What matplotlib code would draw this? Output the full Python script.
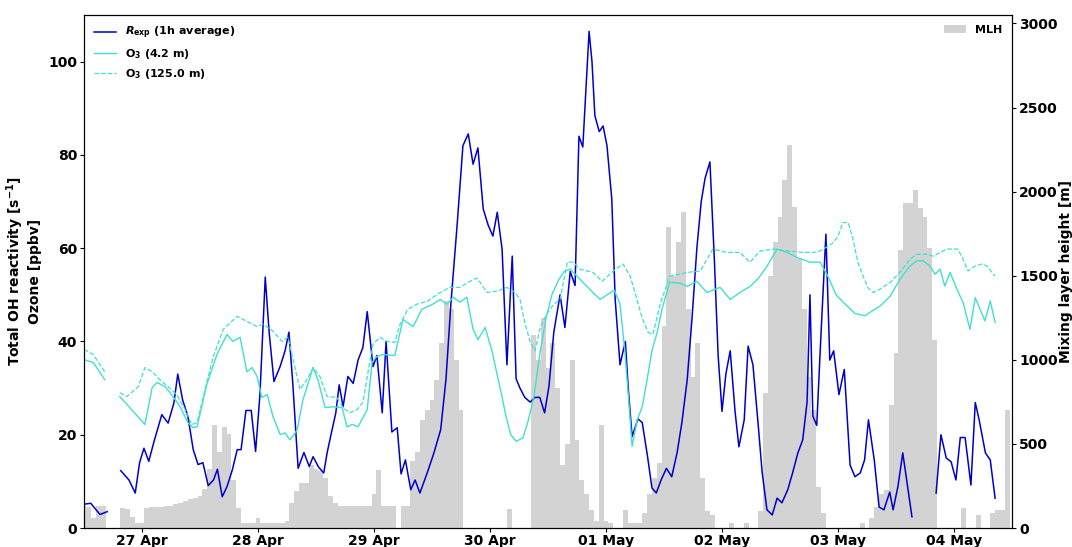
import numpy as np
import matplotlib
matplotlib.use('Agg')
import matplotlib.pyplot as plt
import matplotlib.dates as mdates
from datetime import datetime

# hours since 26 Apr 00:00, nan = gap in the record
rexp_hours = [12.0, 13.4, 15.3, 16.8, 18.0,
              19.6, 21.3, 22.6, 23.5, 24.4, 25.4, 26.5, 28.1, 29.4, 30.6, 31.4, 32.4, 33.5, 34.6, 35.6,
              36.6, 37.7, 38.8, 39.6, 40.6, 41.6, 42.7, 43.7, 44.5, 45.5, 46.6, 47.5, 48.4, 49.5, 50.3,
              51.3, 52.6, 53.6, 54.4, 55.2, 56.3, 57.5, 58.6, 59.4, 60.5, 61.6, 62.3, 63.1, 64.1, 64.8,
              65.6, 66.6, 67.7, 68.7, 69.7, 70.6, 71.8, 72.6, 73.7, 74.5, 75.7, 76.8, 77.6, 78.5, 79.6,
              80.5, 81.5, 83.0, 84.4, 85.8, 86.9, 87.9, 89.2, 90.4, 91.5, 92.5, 93.5, 94.6, 95.6, 96.6,
              97.5, 98.5, 99.5, 100.6, 101.4, 102.2, 103.2, 104.3, 105.3, 106.3, 107.3, 108.2, 109.2,
              110.5, 111.5, 112.6, 113.6, 114.4, 115.2, 116.5, 117.1, 117.7, 118.6, 119.4, 120.2, 121.2,
              121.9, 122.9, 124.0, 124.6, 125.4, 126.6, 127.5, 128.6, 129.5, 130.4, 131.4, 132.5, 133.6,
              134.7, 135.7, 136.8, 137.8, 138.8, 139.7, 140.5, 141.5, 142.4, 143.2, 144.0, 144.8, 145.7,
              146.7, 147.5, 148.6, 149.4, 150.4, 151.5, 152.3, 153.3, 154.4, 155.4, 156.4, 157.6, 158.6,
              159.7, 160.7, 161.6, 162.2, 162.8, 163.6, 164.5, 165.5, 166.3, 167.1, 168.2, 169.3, 170.5,
              171.5, 172.6, 173.5, 174.3, 175.5, 176.5, 177.5, 178.7, 179.4, 180.4, 181.4, 182.2, 183.3,
              185.0,
              188.3, 189.3, 190.4, 191.4, 192.4, 193.3, 194.3, 195.5, 196.4, 197.2, 198.5, 199.5, 200.5]
rexp_vals = [5.1, 5.3, 2.9, 3.5, np.nan,
             12.3, 10.3, 7.5, 14, 17.1, 14.3, 18.6, 24.3, 22.5, 26.8, 33, 27.5, 23.9, 16.8, 13.6,
             14, 9.1, 10.3, 12.6, 6.7, 8.9, 12.5, 16.8, 16.8, 25.2, 25.2, 16.4, 28.6, 53.8, 42,
             31.4, 34.7, 38, 42, 31, 12.8, 16.2, 13.2, 15.3, 13.1, 11.8, 16.1, 20, 24.7, 30.7,
             26, 32.5, 31, 36, 38.7, 46.4, 34.6, 37, 24.7, 40, 20.6, 21.5, 11.6, 14.6, 8.2,
             10.3, 7.5, 11.8, 16.1, 21.1, 32, 48, 65, 82, 84.5, 78, 81.5, 68.4, 65, 62.6,
             67.7, 59.8, 35, 58.3, 32, 30, 28, 27, 28, 28, 24.7, 30.4, 42,
             50, 43, 55, 52, 84, 81.7, 106.5, 100, 88.4, 85, 86.2, 82, 70.5,
             49, 35, 40, 30, 19.6, 23.4, 22.6, 15.3, 8.6, 7.5, 10.3, 12.8, 11,
             16.1, 22.6, 31.8, 45, 60, 70, 75, 78.5, 58, 37, 25, 33, 38,
             25, 17.4, 23.2, 39, 35, 22, 12, 3.9, 2.8, 6.4, 5.4, 8.2, 11.8,
             16.1, 18.9, 27, 50, 24, 22, 42, 63, 36, 38, 28.6, 34, 13.5,
             11, 11.8, 14.6, 23.2, 14.6, 4.5, 3.9, 7.7, 3.9, 8.9, 16.1, 10.3, 2.4,
             np.nan,
             7.5, 20, 15, 14.2, 10.3, 19.4, 19.4, 9.2, 26.9, 23.2, 16.1, 14.6, 6.4]

o3_low_hours = [12.0, 13.9, 16.3, 18.0,
                19.4, 24.6, 26.1, 27.1, 28.8, 30.4, 31.9, 33.5, 34.6, 35.4, 37.4, 39.5, 41.6, 42.8, 44.3,
                45.7, 46.8, 47.8, 48.8, 49.9, 51.1, 52.6, 53.6, 54.6, 56.1, 57.3, 59.4, 60.4, 61.9, 63.5,
                65.4, 66.4, 67.5, 68.7, 70.6, 71.6, 72.6, 73.9, 76.3, 78.0, 80.1, 81.9, 84.2, 85.7, 87.1,
                88.4, 89.8, 91.2, 92.5, 93.5, 95.0, 96.4, 98.1, 99.3, 100.3, 101.4, 102.8, 103.9, 105.1,
                106.4, 107.6, 108.8, 110.1, 111.3, 112.6, 114.0, 115.2, 117.3, 118.8, 120.2, 121.7, 122.9,
                123.9, 124.8, 125.4, 126.4, 127.5, 128.5, 129.5, 130.6, 131.6, 133.2, 135.3, 136.8, 138.8,
                140.9, 143.6, 145.7, 147.7, 149.8, 151.5, 153.3, 155.4, 157.5, 159.5, 162.2, 164.3, 165.9,
                167.6, 169.5, 171.5, 173.6, 175.0, 176.7, 178.8, 180.8, 182.9, 184.3, 185.6, 187.0, 188.1,
                189.1, 190.1, 191.2, 192.6, 193.9, 195.3, 196.4, 197.4, 198.4, 199.5, 200.5]
o3_low = [36.1, 35.5, 31.8, np.nan,
          28.2, 22.2, 30.1, 31.2, 30.3, 28.2, 26, 22.6, 21.5, 21.7, 30.8, 37.2, 41.5, 40, 40.9,
          33.5, 34.4, 32.5, 28, 28.6, 23.9, 20, 20.4, 18.9, 21, 27.5, 34.4, 31.8, 25.8, 26,
          25.8, 21.7, 22.2, 21.7, 25.4, 35.5, 36.8, 37.2, 37, 44.7, 43.2, 46.9, 48, 49, 48,
          49.5, 48.4, 49.5, 42.6, 40.4, 43, 38, 30, 24, 20, 18.6, 19.3, 23, 28.2,
          38, 45, 50, 53, 55, 55.5, 54, 52.7, 50.5, 49, 50, 51, 48,
          38, 26, 17.5, 23, 26, 31.8, 38, 42, 47, 52.7, 52.5, 51.8, 52.9,
          50.5, 51.6, 49, 50.5, 51.8, 53.5, 56.1, 59.8, 59.1, 58, 57, 57, 54,
          50, 48, 46, 45.5, 46.5, 47.6, 49.7, 53.3, 56.2, 57.3, 57.3, 56.2, 54.4,
          55.5, 51.9, 54.8, 51.2, 48.3, 42.6, 49.4, 46.9, 44.4, 48.7, 44.1]

o3_high_hours = [12.0, 13.9, 16.3, 18.0,
                 19.4, 20.9, 23.2, 24.6, 26.1, 27.7, 29.4, 31.2, 32.9, 34.3, 35.4, 37.4, 38.7, 40.8, 43.7,
                 45.7, 47.8, 49.0, 51.1, 53.0, 54.2, 56.7, 58.1, 59.4, 60.8, 62.3, 64.3, 65.6, 67.0, 68.5,
                 69.7, 71.2, 71.8, 73.2, 74.7, 76.3, 77.4, 79.0, 80.9, 83.0, 85.7, 87.7, 89.8, 91.5, 93.3,
                 95.4, 97.5, 99.5, 101.2, 102.2, 103.2, 104.3, 105.3, 106.4, 107.8, 109.2, 110.5, 112.0,
                 113.2, 114.6, 117.3, 119.2, 121.2, 122.5, 123.5, 125.0, 126.4, 127.5, 128.7, 129.7, 131.2,
                 133.2, 136.8, 139.5, 142.1, 145.0, 147.7, 149.8, 151.9, 154.6, 157.5, 160.8, 163.7, 165.3,
                 166.8, 168.0, 169.0, 170.1, 171.1, 172.1, 173.2, 174.2, 175.3, 176.7, 178.8, 180.8, 182.9,
                 184.3, 186.3, 187.7, 190.5, 192.8, 193.9, 194.9, 196.4, 197.8, 198.8, 200.5]
o3_high = [38.3, 37.2, 33.5, np.nan,
           29, 28.2, 30.3, 34.4, 33.5, 31.8, 30.3, 28.6, 25.4, 22.2, 22.6, 31.2, 36.6, 42.6, 45.4,
           44.3, 43.2, 43.7, 42.2, 40, 40.9, 29.7, 31.8, 34.4, 32.5, 28.2, 28, 25.8, 24.7, 25.4,
           26.9, 36.1, 39.4, 40.9, 40, 39.8, 43.7, 46.9, 48, 48.6, 50.5, 51.6, 51.6, 52.7, 53.6,
           50.5, 50.8, 51.6, 50.5, 49, 44, 40, 38, 43, 46, 48, 49, 57,
           57, 55.5, 54.8, 52.9, 54.8, 55.9, 56.6, 54, 49, 45, 42, 41.5, 48,
           54, 54.8, 55.1, 59.8, 59.1, 59.1, 57, 59.4, 59.8, 59.4, 59.1, 59.1, 60,
           61, 62.5, 65.5, 65.5, 62, 57, 54, 51.5, 50.5, 51.2, 52.7, 54.8, 57.6,
           58.7, 58.7, 58.3, 59.8, 59.8, 57.6, 55.1, 56.2, 56.6, 56.2, 54]

# mixing layer height, hourly from 26 Apr 12:00
mlh_start = 12
mlh = [130, 125, 60, 130, 130, 0, 0, 0, 120, 115, 65, 30,
       30, 120, 125, 125, 125, 130, 130, 140, 150, 160, 170, 180,
       190, 230, 350, 613, 450, 600, 560, 285, 120, 30, 30, 30,
       60, 30, 30, 30, 30, 30, 40, 150, 220, 268, 268, 375,
       350, 340, 300, 190, 150, 130, 130, 130, 130, 130, 130, 130,
       200, 345, 130, 130, 130, 0, 130, 130, 400, 450, 643, 700,
       760, 880, 1100, 1350, 1300, 1000, 700, 0, 0, 0, 0, 0,
       0, 0, 0, 0, 110, 0, 0, 0, 0, 1150, 1000, 1250,
       950, 1100, 833, 375, 500, 1000, 524, 285, 200, 107, 40, 613,
       40, 30, 0, 0, 107, 30, 30, 30, 89, 200, 300, 387,
       1200, 1790, 1500, 1700, 1880, 1300, 900, 1100, 300, 100, 80, 0,
       0, 0, 30, 0, 0, 30, 0, 0, 100, 800, 1500, 1700,
       1850, 2070, 2280, 1910, 1600, 1300, 900, 700, 245, 89, 0, 0,
       0, 0, 0, 0, 0, 30, 0, 60, 125, 200, 226, 732,
       1041, 1654, 1934, 1934, 2011, 1900, 1850, 1666, 1119, 0, 0, 0,
       0, 0, 119, 0, 0, 75, 0, 0, 89, 107, 107, 700]

base = mdates.date2num(datetime(2018, 4, 26))


def tnum(hours):
    return base + np.array(hours, dtype=float) / 24.0


plt.rcParams['font.family'] = 'DejaVu Sans'
plt.rcParams['font.weight'] = 'bold'
plt.rcParams['axes.labelweight'] = 'bold'
plt.rcParams['font.size'] = 10

fig = plt.figure(figsize=(10.72, 5.47), dpi=100)
ax1 = fig.add_axes([84 / 1072, 19 / 547, 928 / 1072, 513 / 547])
ax2 = ax1.twinx()

mlh_hours = mlh_start + np.arange(len(mlh))
ax2.bar(tnum(mlh_hours), mlh, width=1 / 24, color='lightgray', linewidth=0, label='MLH')

ax1.plot(tnum(rexp_hours), rexp_vals, color='mediumblue', lw=1.1,
         label=r'$\mathbfit{R}_{\mathbf{exp}}$ (1h average)')
ax1.plot(tnum(o3_low_hours), o3_low, color='turquoise', lw=1.0, label=r'O$_\mathbf{3}$ (4.2 m)')
ax1.plot(tnum(o3_high_hours), o3_high, color='turquoise', lw=0.9, ls='--',
         label=r'O$_\mathbf{3}$ (125.0 m)')

ax1.set_zorder(ax2.get_zorder() + 1)
ax1.patch.set_visible(False)

ax1.set_xlim(base + 0.5, base + 8.5)
ax1.set_ylim(0, 110)
ax2.set_ylim(0, 3050)
ax1.set_yticks([0, 20, 40, 60, 80, 100])
ax2.set_yticks([0, 500, 1000, 1500, 2000, 2500, 3000])
ax1.xaxis.set_major_locator(mdates.DayLocator())
ax1.xaxis.set_major_formatter(mdates.DateFormatter('%d %b'))
ax1.tick_params(axis='x', length=3, pad=1)
ax1.tick_params(axis='y', length=3, pad=2)
ax2.tick_params(axis='y', length=3, pad=2)

ax1.set_ylabel('Total OH reactivity [s$^{\\mathbf{-1}}$]\nOzone [ppbv]', labelpad=4)
ax2.set_ylabel('Mixing layer height [m]', labelpad=1)

ax1.legend(loc='upper left', frameon=False, fontsize=8)
ax2.legend(loc='upper right', frameon=False, fontsize=8)

fig.savefig('out.png', dpi=100)
